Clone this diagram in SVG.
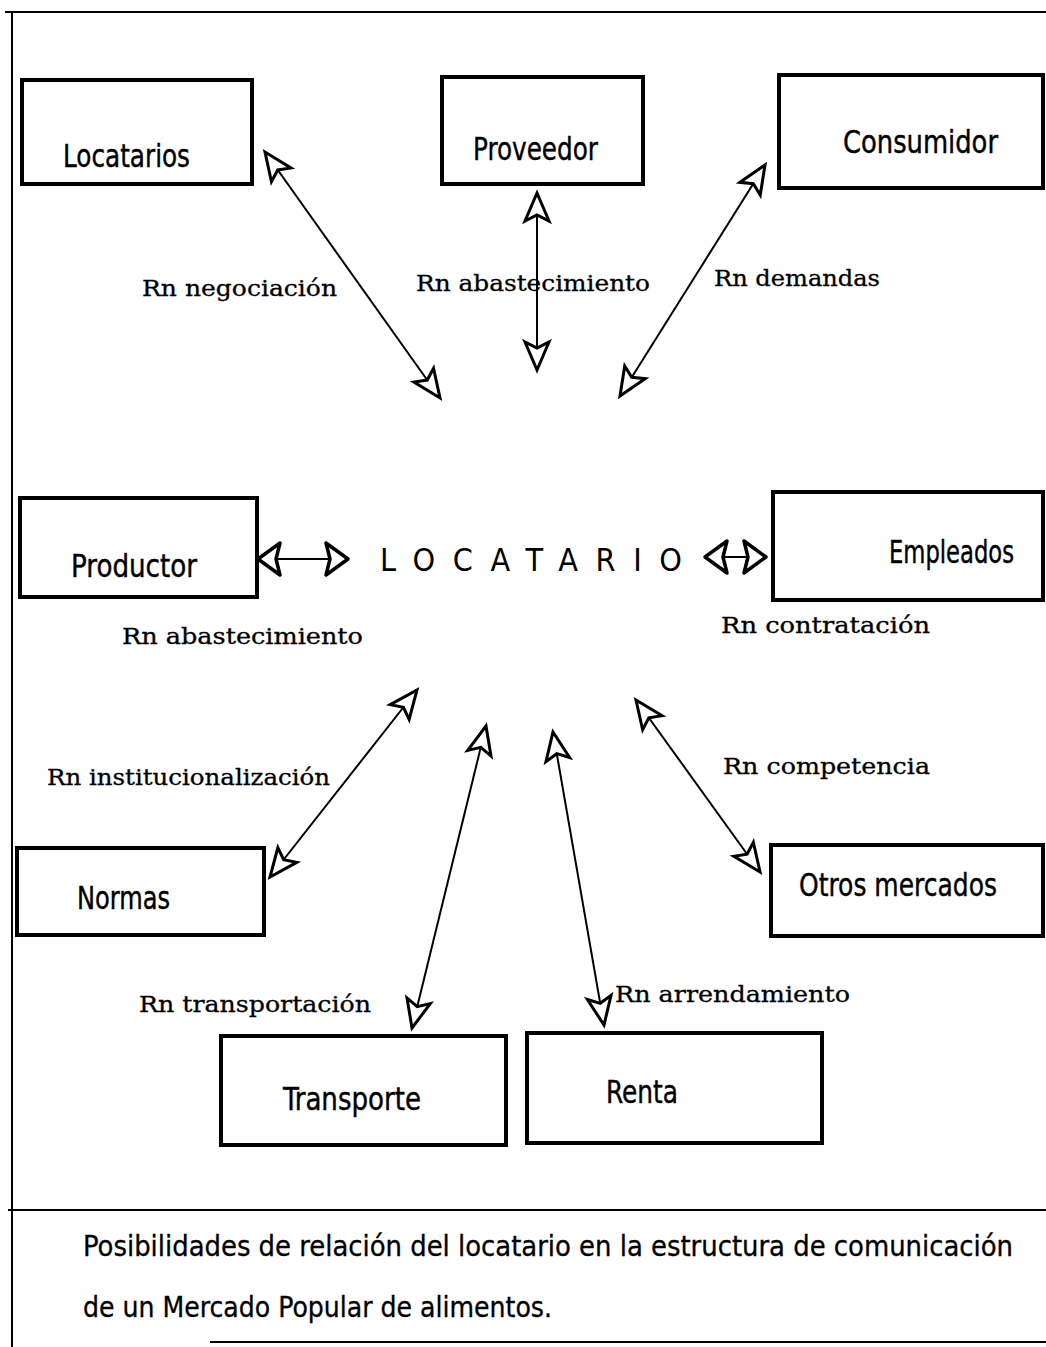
<svg xmlns="http://www.w3.org/2000/svg" width="1046" height="1347" viewBox="0 0 1046 1347">
<style>
.box{fill:#fff;stroke:#000;stroke-width:4}
.lbl{font-family:"DejaVu Sans Condensed","Liberation Sans Narrow","Liberation Sans",sans-serif;font-size:32px;fill:#000;stroke:#000;stroke-width:0.4}
.rel{font-family:"DejaVu Serif","Liberation Serif",serif;font-size:22px;fill:#000;stroke:#000;stroke-width:0.3}
.frame{stroke:#000;stroke-width:2;fill:none}
.con{stroke:#000;stroke-width:2;fill:none;marker-start:url(#ah);marker-end:url(#ah)}
.conh{stroke:#000;stroke-width:2;fill:none;marker-start:url(#ahw);marker-end:url(#ahw)}
.cap{font-family:"DejaVu Sans Condensed","Liberation Sans Narrow","Liberation Sans",sans-serif;font-size:28px;fill:#000;stroke:#000;stroke-width:0.3}
</style>
<defs>
<marker id="ah" viewBox="-4 -16 36 32" refX="28" refY="0" markerWidth="36" markerHeight="32" markerUnits="userSpaceOnUse" orient="auto-start-reverse" overflow="visible">
<path d="M0,-12 L28,0 L0,12 L6,0 Z" fill="#fff" stroke="#000" stroke-width="3" stroke-linejoin="miter"/>
</marker>
<marker id="ahw" viewBox="-4 -20 30 40" refX="22" refY="0" markerWidth="30" markerHeight="40" markerUnits="userSpaceOnUse" orient="auto-start-reverse" overflow="visible">
<path d="M0,-16 L22,0 L0,16 L4,0 Z" fill="#fff" stroke="#000" stroke-width="3.5" stroke-linejoin="round"/>
</marker>
</defs>
<rect width="1046" height="1347" fill="#fff"/>
<g id="frame">
<line class="frame" x1="5" y1="12" x2="1046" y2="12"/>
<line class="frame" x1="12" y1="12" x2="12" y2="1347"/>
<line class="frame" x1="8" y1="1210" x2="1046" y2="1210"/>
<line class="frame" x1="210" y1="1342" x2="1046" y2="1342"/>
</g>
<g id="connectors">
<line class="con" x1="265" y1="152" x2="440" y2="398"/>
<line class="con" x1="537" y1="193" x2="537" y2="370"/>
<line class="con" x1="765" y1="165" x2="620" y2="396"/>
<line class="conh" x1="258" y1="559" x2="348" y2="559"/>
<line class="conh" x1="705" y1="557" x2="766" y2="557"/>
<line class="con" x1="417" y1="690" x2="270" y2="877"/>
<line class="con" x1="486" y1="726" x2="412" y2="1028"/>
<line class="con" x1="553" y1="732" x2="604" y2="1025"/>
<line class="con" x1="636" y1="700" x2="760" y2="872"/>
</g>
<g id="locatarios"><rect class="box" x="22" y="80" width="230" height="104"/><text class="lbl" x="63" y="167" textLength="127" lengthAdjust="spacingAndGlyphs">Locatarios</text></g>
<g id="proveedor"><rect class="box" x="442" y="77" width="201" height="107"/><text class="lbl" x="473" y="160" textLength="125" lengthAdjust="spacingAndGlyphs">Proveedor</text></g>
<g id="consumidor"><rect class="box" x="779" y="75" width="264" height="113"/><text class="lbl" x="843" y="153" textLength="155" lengthAdjust="spacingAndGlyphs">Consumidor</text></g>
<g id="productor"><rect class="box" x="20" y="498" width="237" height="99"/><text class="lbl" x="71" y="577" textLength="126" lengthAdjust="spacingAndGlyphs">Productor</text></g>
<g id="locatario"><text x="380" y="571" font-family="DejaVu Sans Condensed,Liberation Sans,sans-serif" font-size="32" textLength="302" lengthAdjust="spacing">LOCATARIO</text></g>
<g id="empleados"><rect class="box" x="773" y="492" width="270" height="108"/><text class="lbl" x="889" y="563" textLength="125" lengthAdjust="spacingAndGlyphs">Empleados</text></g>
<g id="normas"><rect class="box" x="17" y="848" width="247" height="87"/><text class="lbl" x="77" y="909" textLength="93" lengthAdjust="spacingAndGlyphs">Normas</text></g>
<g id="otros"><rect class="box" x="771" y="845" width="272" height="91"/><text class="lbl" x="799" y="896" textLength="198" lengthAdjust="spacingAndGlyphs">Otros mercados</text></g>
<g id="transporte"><rect class="box" x="221" y="1036" width="285" height="109"/><text class="lbl" x="283" y="1110" textLength="138" lengthAdjust="spacingAndGlyphs">Transporte</text></g>
<g id="renta"><rect class="box" x="527" y="1033" width="295" height="110"/><text class="lbl" x="606" y="1103" textLength="72" lengthAdjust="spacingAndGlyphs">Renta</text></g>
<g id="labels">
<text class="rel" x="142" y="296" textLength="195" lengthAdjust="spacingAndGlyphs">Rn  negociación</text>
<text class="rel" x="416" y="291" textLength="234" lengthAdjust="spacingAndGlyphs">Rn abastecimiento</text>
<text class="rel" x="714" y="286" textLength="166" lengthAdjust="spacingAndGlyphs">Rn demandas</text>
<text class="rel" x="122" y="644" textLength="241" lengthAdjust="spacingAndGlyphs">Rn  abastecimiento</text>
<text class="rel" x="721" y="633" textLength="209" lengthAdjust="spacingAndGlyphs">Rn  contratación</text>
<text class="rel" x="47" y="785" textLength="283" lengthAdjust="spacingAndGlyphs">Rn institucionalización</text>
<text class="rel" x="723" y="774" textLength="207" lengthAdjust="spacingAndGlyphs">Rn  competencia</text>
<text class="rel" x="139" y="1012" textLength="232" lengthAdjust="spacingAndGlyphs">Rn  transportación</text>
<text class="rel" x="615" y="1002" textLength="235" lengthAdjust="spacingAndGlyphs">Rn  arrendamiento</text>
</g>
<g id="caption">
<text class="cap" x="83" y="1256" textLength="930" lengthAdjust="spacingAndGlyphs">Posibilidades de relación del locatario en la estructura de comunicación</text>
<text class="cap" x="83" y="1317" textLength="469" lengthAdjust="spacingAndGlyphs">de un Mercado Popular de alimentos.</text>
</g>
</svg>
